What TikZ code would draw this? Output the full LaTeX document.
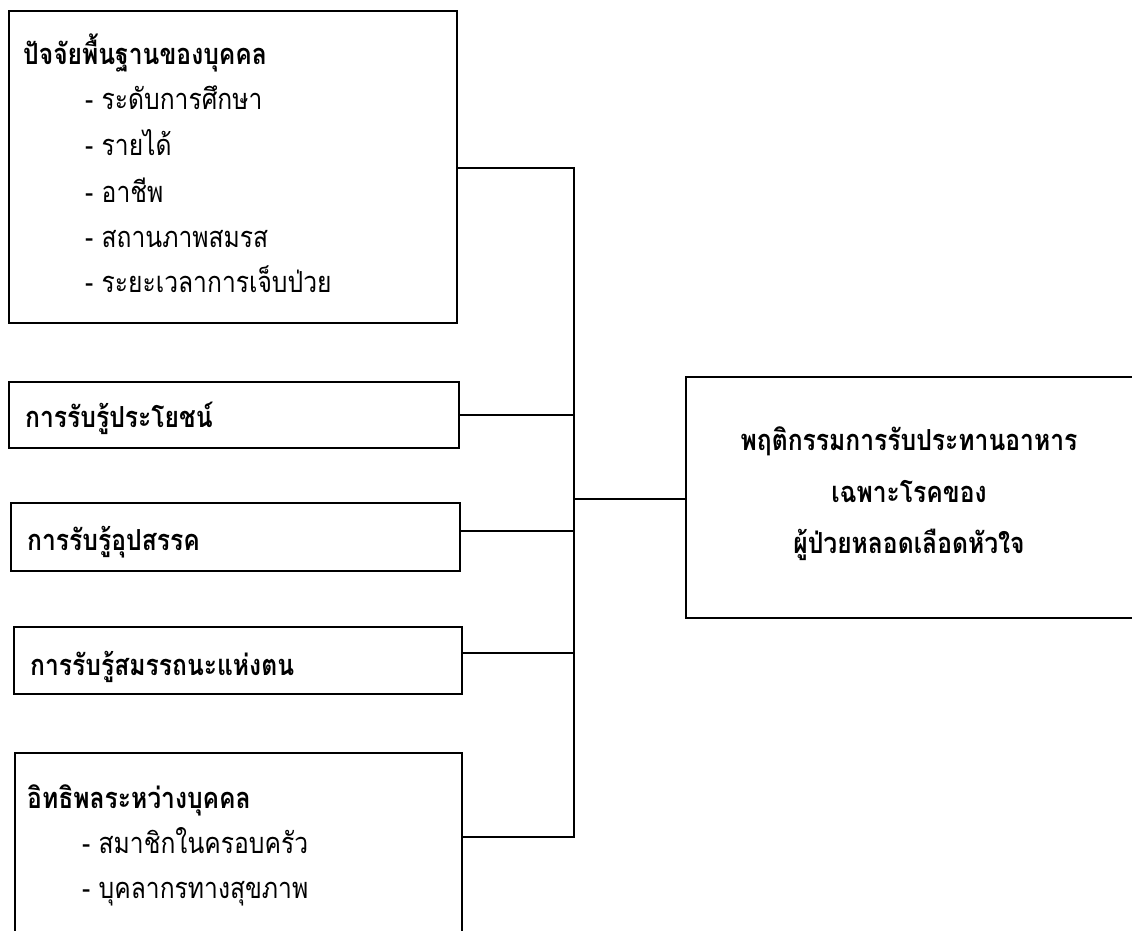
\documentclass[tikz,border=0pt]{standalone}
\usepackage{fontspec}
\newfontfamily\thaifont[Script=Thai,FakeStretch=0.85]{Loma}
\usetikzlibrary{calc}
\tikzset{
  box/.style={draw, line width=1.7pt, inner sep=0pt, anchor=north west},
  link/.style={line width=1.4pt},
  ttl/.style={font=\thaifont\bfseries\fontsize{29}{34}\selectfont, anchor=base west, inner sep=0pt},
  itm/.style={font=\thaifont\fontsize{29}{34}\selectfont, anchor=base west, inner sep=0pt},
  ctr/.style={font=\thaifont\bfseries\fontsize{29}{34}\selectfont, anchor=base, inner sep=0pt},
}
\begin{document}
\begin{tikzpicture}[x=1pt,y=-1pt]
\useasboundingbox (0,0) rectangle (1132,931);
\clip (0,0) rectangle (1132,931);
% boxes
\node[box, minimum width=448pt, minimum height=312pt] (b1) at (8,10) {};
\node[box, minimum width=450pt, minimum height=66pt] (b2) at (8,381) {};
\node[box, minimum width=449pt, minimum height=68pt] (b3) at (10,502) {};
\node[box, minimum width=448pt, minimum height=67pt] (b4) at (13,626) {};
\node[box, minimum width=447pt, minimum height=200pt] (b5) at (14,752) {};
\node[box, minimum width=470pt, minimum height=241pt] (rb) at (685,376) {};
% texts
\node[ttl] (t1) at (23,65) {ปัจจัยพื้นฐานของบุคคล};
\node[itm] (t1a) at (85,110) {- ระดับการศึกษา};
\node[itm] (t1b) at (85,155) {- รายได้};
\node[itm] (t1c) at (85,202) {- อาชีพ};
\node[itm] (t1d) at (85,247) {- สถานภาพสมรส};
\node[itm] (t1e) at (85,292) {- ระยะเวลาการเจ็บป่วย};
\node[ttl] (t2) at (25,427) {การรับรู้ประโยชน์};
\node[ttl] (t3) at (27,550) {การรับรู้อุปสรรค};
\node[ttl] (t4) at (30,675) {การรับรู้สมรรถนะแห่งตน};
\node[ttl] (t5) at (27,808) {อิทธิพลระหว่างบุคคล};
\node[itm] (t5a) at (82,853) {- สมาชิกในครอบครัว};
\node[itm] (t5b) at (82,898) {- บุคลากรทางสุขภาพ};
\node[ctr] (r1) at (909,450) {พฤติกรรมการรับประทานอาหาร};
\node[ctr] (r2) at (909,502) {เฉพาะโรคของ};
\node[ctr] (r3) at (909,553) {ผู้ป่วยหลอดเลือดหัวใจ};
% connectors
\coordinate (bus1) at (574,168);
\coordinate (bus5) at (574,837);
\coordinate (c3) at (574,531);
\coordinate (c4) at (574,653);
\coordinate (cr) at (574,499);
\draw[link] (b1.east |- bus1) -- (bus1) -- (bus5) -- (bus5 -| b5.east);
\draw[link] (b2.east) -- (b2.east -| bus1);
\draw[link] (c3 -| b3.east) -- (c3);
\draw[link] (c4 -| b4.east) -- (c4);
\draw[link] (cr) -- (cr -| rb.west);
\end{tikzpicture}
\end{document}
